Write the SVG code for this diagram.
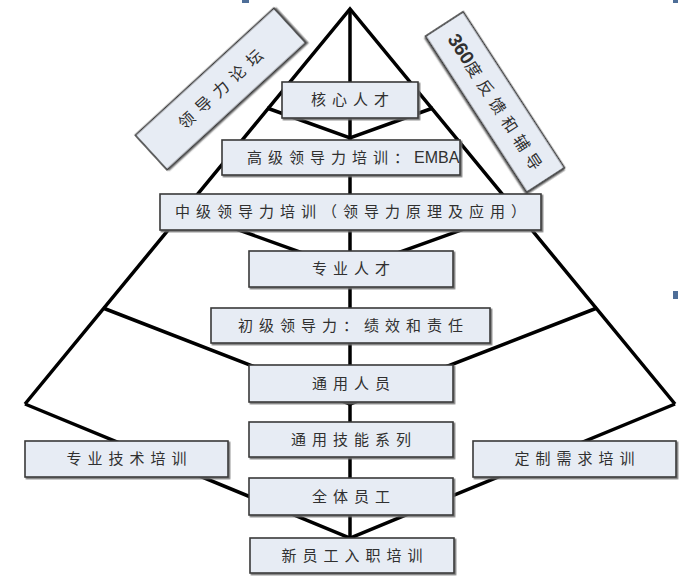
<svg xmlns="http://www.w3.org/2000/svg" width="679" height="586" viewBox="0 0 679 586">
<style>
.box{fill:#E7ECF4;stroke:#3a3a3a;stroke-width:1.6;filter:url(#sh)}
.t{font-family:"Noto Sans CJK SC","Liberation Sans",sans-serif;font-size:15px;fill:#303030;letter-spacing:6px;text-anchor:middle}
.ts{text-anchor:start}
.en{font-family:"Liberation Sans","Noto Sans CJK SC",sans-serif;letter-spacing:0px}
.rt{font-size:16px;letter-spacing:7px}
.ln{fill:none;stroke:#000;stroke-width:3.5;stroke-linejoin:miter;stroke-linecap:butt}
.mark{fill:#4E6E98}
</style>
<defs>
<filter id="sh" x="-10%" y="-20%" width="120%" height="140%">
<feDropShadow dx="1.5" dy="1.5" stdDeviation="0.6" flood-color="#6e6e6e" flood-opacity="0.9"/>
</filter>
</defs>
<rect width="679" height="586" fill="#ffffff"/>
<rect class="mark" x="242" y="0" width="7" height="3"/>
<rect class="mark" x="673" y="0" width="5" height="3"/>
<rect class="mark" x="673" y="291" width="5" height="8"/>
<g id="connectors">
<polyline class="ln" points="25,404 350,9 675,404"/>
<line class="ln" x1="350" y1="9" x2="350" y2="538"/>
<polyline class="ln" points="267,108 350,138 433,108"/>
<polyline class="ln" points="183,210 350,270 517,210"/>
<polyline class="ln" points="103,308 350,404 597,308"/>
<polyline class="ln" points="25,404 350,538 675,404"/>
</g>
<g id="n-forum" transform="translate(220.5,89) rotate(-42.5)">
<rect class="box" x="-94" y="-23.5" width="188" height="47"/>
<text class="t rt" x="3.5" y="6">领导力论坛</text>
</g>
<g id="n-360" transform="translate(495,102) rotate(57)">
<rect class="box" x="-93" y="-22.5" width="186" height="45"/>
<text class="t rt" x="3" y="6" style="letter-spacing:6px"><tspan class="en" style="font-size:19px;font-weight:bold;letter-spacing:0px">360</tspan>度反馈和辅导</text>
</g>
<g id="n-core">
<rect class="box" x="282" y="82" width="136" height="36"/>
<text class="t" x="353" y="105">核心人才</text>
</g>
<g id="n-senior">
<rect class="box" x="222" y="140" width="238" height="35"/>
<text class="t ts" x="247" y="162.5">高级领导力培训：<tspan class="en" x="414" style="font-size:16px">EMBA</tspan></text>
</g>
<g id="n-middle">
<rect class="box" x="160" y="194" width="381" height="36"/>
<text class="t" x="353.5" y="217">中级领导力培训（领导力原理及应用）</text>
</g>
<g id="n-pro">
<rect class="box" x="249" y="251" width="204" height="36"/>
<text class="t" x="354" y="274">专业人才</text>
</g>
<g id="n-junior">
<rect class="box" x="211" y="308" width="279" height="35"/>
<text class="t" x="353.5" y="330.5">初级领导力：绩效和责任</text>
</g>
<g id="n-general">
<rect class="box" x="249" y="365" width="204" height="37"/>
<text class="t" x="354" y="388.5">通用人员</text>
</g>
<g id="n-skills">
<rect class="box" x="249" y="422" width="204" height="35"/>
<text class="t" x="354" y="444.5">通用技能系列</text>
</g>
<g id="n-tech">
<rect class="box" x="25" y="441" width="203" height="36"/>
<text class="t" x="129.5" y="464">专业技术培训</text>
</g>
<g id="n-custom">
<rect class="box" x="473" y="441" width="203" height="36"/>
<text class="t" x="577.5" y="464">定制需求培训</text>
</g>
<g id="n-all">
<rect class="box" x="249" y="478" width="204" height="37"/>
<text class="t" x="354" y="501.5">全体员工</text>
</g>
<g id="n-new">
<rect class="box" x="250" y="538" width="204" height="35"/>
<text class="t" x="355" y="560.5">新员工入职培训</text>
</g>
</svg>
